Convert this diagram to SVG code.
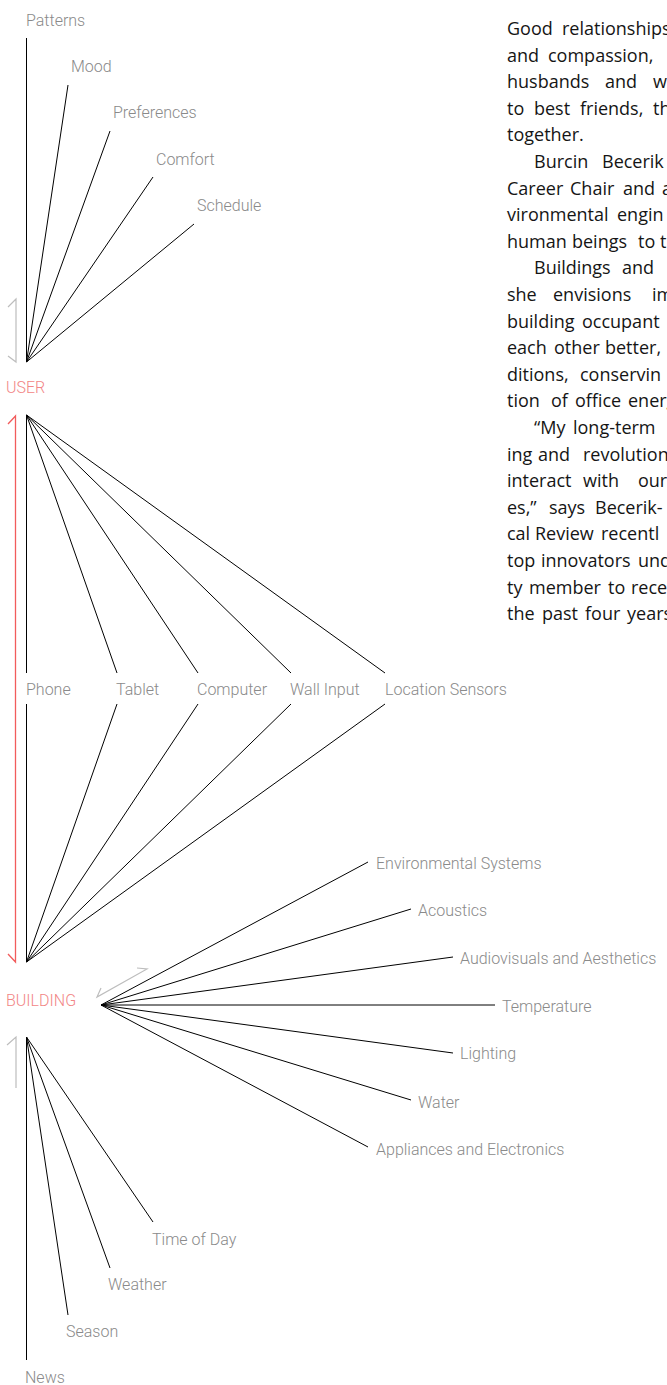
<svg xmlns="http://www.w3.org/2000/svg" width="667" height="1385" viewBox="0 0 667 1385">
<style>
.lbl{font-family:Roboto,"Liberation Sans",sans-serif;font-weight:300;font-size:16px;fill:#8a8a8a}
.hub{font-family:Roboto,"Liberation Sans",sans-serif;font-weight:300;font-size:16px;fill:#f28686}
.ln{stroke:#000;stroke-width:1;fill:none}
.ga{stroke:#bdbdbd;stroke-width:1.2;fill:none}
.ra{stroke:#f25c5c;stroke-width:1.3;fill:none}
.body{font-family:"Open Sans","Noto Sans",sans-serif;font-size:18px;fill:#151515}
</style>
<rect width="667" height="1385" fill="#fff"/>

<g id="connectors">
  <line class="ln" x1="26.5" y1="38" x2="26.5" y2="362"/>
  <line class="ln" x1="68" y1="85" x2="26.5" y2="362"/>
  <line class="ln" x1="110" y1="131" x2="26.5" y2="362"/>
  <line class="ln" x1="153" y1="177" x2="26.5" y2="362"/>
  <line class="ln" x1="194" y1="224" x2="26.5" y2="362"/>
  <line class="ln" x1="26.5" y1="415" x2="26.5" y2="673"/>
  <line class="ln" x1="26.5" y1="415" x2="117" y2="673"/>
  <line class="ln" x1="26.5" y1="415" x2="198" y2="673"/>
  <line class="ln" x1="26.5" y1="415" x2="291" y2="673"/>
  <line class="ln" x1="26.5" y1="415" x2="385" y2="673"/>
  <line class="ln" x1="26.5" y1="704" x2="26.5" y2="962"/>
  <line class="ln" x1="117" y1="704" x2="26.5" y2="962"/>
  <line class="ln" x1="198" y1="704" x2="26.5" y2="962"/>
  <line class="ln" x1="291" y1="704" x2="26.5" y2="962"/>
  <line class="ln" x1="385" y1="704" x2="26.5" y2="962"/>
  <line class="ln" x1="101" y1="1005" x2="368" y2="862"/>
  <line class="ln" x1="101" y1="1005" x2="411" y2="909"/>
  <line class="ln" x1="101" y1="1005" x2="453" y2="957"/>
  <line class="ln" x1="101" y1="1005" x2="495" y2="1005"/>
  <line class="ln" x1="101" y1="1005" x2="453" y2="1053"/>
  <line class="ln" x1="101" y1="1005" x2="411" y2="1100"/>
  <line class="ln" x1="101" y1="1005" x2="368" y2="1147"/>
  <line class="ln" x1="26.5" y1="1037" x2="26.5" y2="1360"/>
  <line class="ln" x1="26.5" y1="1037" x2="68" y2="1315"/>
  <line class="ln" x1="26.5" y1="1037" x2="110" y2="1268"/>
  <line class="ln" x1="26.5" y1="1037" x2="153" y2="1222"/>
  <path class="ga" d="M8,307 L16,299 L16,362 L8,356"/>
  <path class="ra" d="M8,424 L15.5,416 L15.5,962 L8,954"/>
  <path class="ga" d="M137,968 L147,969 L97,997 L101,988"/>
  <path class="ga" d="M7,1045 L16,1037 L16,1088"/>
</g>

<g id="node-patterns"><text class="lbl" x="26" y="26">Patterns</text></g>
<g id="node-mood"><text class="lbl" x="71" y="72">Mood</text></g>
<g id="node-preferences"><text class="lbl" x="113" y="118">Preferences</text></g>
<g id="node-comfort"><text class="lbl" x="156" y="165">Comfort</text></g>
<g id="node-schedule"><text class="lbl" x="197" y="211">Schedule</text></g>
<g id="node-user"><text class="hub" x="6" y="393">USER</text></g>

<g id="node-phone"><text class="lbl" x="26" y="695">Phone</text></g>
<g id="node-tablet"><text class="lbl" x="116" y="695">Tablet</text></g>
<g id="node-computer"><text class="lbl" x="197" y="695">Computer</text></g>
<g id="node-wall-input"><text class="lbl" x="290" y="695">Wall Input</text></g>
<g id="node-location-sensors"><text class="lbl" x="385" y="695">Location Sensors</text></g>

<g id="node-building"><text class="hub" x="6" y="1006">BUILDING</text></g>
<g id="node-environmental"><text class="lbl" x="376" y="869">Environmental Systems</text></g>
<g id="node-acoustics"><text class="lbl" x="418" y="916">Acoustics</text></g>
<g id="node-audiovisuals"><text class="lbl" x="460" y="964">Audiovisuals and Aesthetics</text></g>
<g id="node-temperature"><text class="lbl" x="502" y="1012">Temperature</text></g>
<g id="node-lighting"><text class="lbl" x="460" y="1059">Lighting</text></g>
<g id="node-water"><text class="lbl" x="418" y="1108">Water</text></g>
<g id="node-appliances"><text class="lbl" x="376" y="1155">Appliances and Electronics</text></g>

<g id="node-time-of-day"><text class="lbl" x="152" y="1245">Time of Day</text></g>
<g id="node-weather"><text class="lbl" x="108" y="1290">Weather</text></g>
<g id="node-season"><text class="lbl" x="66" y="1337">Season</text></g>
<g id="node-news"><text class="lbl" x="25" y="1383">News</text></g>

<g id="body-text" class="body">
  <text y="35"><tspan x="507">Good</tspan><tspan x="562">relationships</tspan></text>
  <text y="61.6"><tspan x="507">and</tspan><tspan x="548">compassion,</tspan></text>
  <text y="88.2"><tspan x="507">husbands</tspan><tspan x="605">and</tspan><tspan x="653">w</tspan></text>
  <text y="114.8"><tspan x="507">to</tspan><tspan x="534">best</tspan><tspan x="580">friends,</tspan><tspan x="653">th</tspan></text>
  <text y="141.4"><tspan x="507">together.</tspan></text>
  <text y="168"><tspan x="534">Burcin</tspan><tspan x="602">Becerik</tspan></text>
  <text y="194.6"><tspan x="507">Career</tspan><tspan x="570">Chair</tspan><tspan x="623">and</tspan><tspan x="662">a</tspan></text>
  <text y="221.2"><tspan x="507">vironmental</tspan><tspan x="617">engin</tspan></text>
  <text y="247.8"><tspan x="507">human</tspan><tspan x="572">beings</tspan><tspan x="638">to</tspan><tspan x="660">t</tspan></text>
  <text y="274.4"><tspan x="534">Buildings</tspan><tspan x="622">and</tspan></text>
  <text y="301"><tspan x="507">she</tspan><tspan x="553">envisions</tspan><tspan x="652">im</tspan></text>
  <text y="327.6"><tspan x="507">building</tspan><tspan x="582">occupant</tspan></text>
  <text y="354.2"><tspan x="507">each</tspan><tspan x="554">other</tspan><tspan x="605">better,</tspan></text>
  <text y="380.8"><tspan x="507">ditions,</tspan><tspan x="580">conservin</tspan></text>
  <text y="407.4"><tspan x="507">tion</tspan><tspan x="551">of</tspan><tspan x="575">office</tspan><tspan x="628">energ</tspan></text>
  <text y="434"><tspan x="534">“My</tspan><tspan x="573">long-term</tspan></text>
  <text y="460.6"><tspan x="507">ing</tspan><tspan x="538">and</tspan><tspan x="583">revolution</tspan></text>
  <text y="487.2"><tspan x="507">interact</tspan><tspan x="583">with</tspan><tspan x="638">our</tspan></text>
  <text y="513.8"><tspan x="507">es,”</tspan><tspan x="549">says</tspan><tspan x="595">Becerik-</tspan></text>
  <text y="540.4"><tspan x="507">cal</tspan><tspan x="535">Review</tspan><tspan x="601">recentl</tspan></text>
  <text y="567"><tspan x="507">top</tspan><tspan x="541">innovators</tspan><tspan x="638">und</tspan></text>
  <text y="593.6"><tspan x="507">ty</tspan><tspan x="529">member</tspan><tspan x="608">to</tspan><tspan x="631">rece</tspan></text>
  <text y="620.2"><tspan x="507">the</tspan><tspan x="542">past</tspan><tspan x="585">four</tspan><tspan x="627">years</tspan></text>
</g>
</svg>
